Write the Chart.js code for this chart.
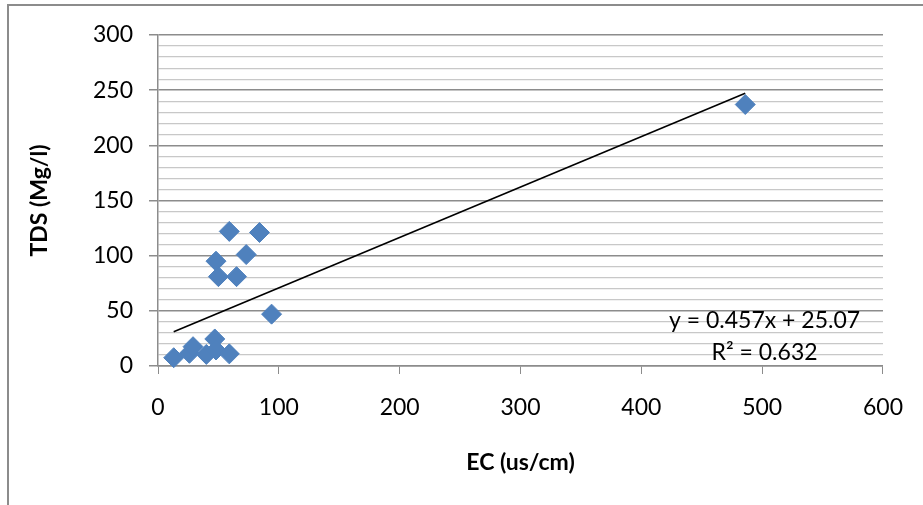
<!DOCTYPE html>
<html>
<head>
<meta charset="utf-8">
<script src="https://cdn.jsdelivr.net/npm/chart.js@4.4.1/dist/chart.umd.min.js"></script>
<style>
  html, body { margin: 0; padding: 0; background: #fff; }
  #wrap { position: relative; width: 923px; height: 505px; overflow: hidden; }
  #frame { position: absolute; left: 7px; top: 4px; width: 1000px; height: 600px;
           border-left: 2px solid #8c8c8c; border-top: 2px solid #8c8c8c; }
  canvas { position: absolute; left: 0; top: 0; }
</style>
</head>
<body>
<div id="wrap">
  <div id="frame"></div>
  <canvas id="chart" width="923" height="505"></canvas>
</div>
<script>
// data
const ec  = [13, 26, 29, 40, 47, 48, 59, 94, 59, 84, 73, 48, 50, 65, 486];
const tds = [7.5, 11.5, 17.5, 10.5, 24.5, 14.5, 11, 47, 122, 121, 101, 95, 81, 81, 237];

// trendline shown on the chart
const slope = 0.457;
const intercept = 25.07;
const eqLines = ["y = 0.457x + 25.07", "R² = 0.632"];

const xTicks = [0, 100, 200, 300, 400, 500, 600];
const yTickLabels = [0, 50, 100, 150, 200, 250, 300];

Chart.defaults.font.family = "Lato";
Chart.defaults.color = "#000";

const points = ec.map((x, i) => ({ x: x, y: tds[i] }));
const xMin = Math.min(...ec), xMax = Math.max(...ec);
const trend = [
  { x: xMin, y: slope * xMin + intercept },
  { x: xMax, y: slope * xMax + intercept }
];

// equation label next to the trendline
const eqLabel = {
  id: "eqLabel",
  afterDatasetsDraw(chart) {
    const { ctx, scales } = chart;
    const cx = scales.x.getPixelForValue(502);
    const cy = scales.y.getPixelForValue(41);
    ctx.save();
    ctx.font = "23px Lato";
    ctx.fillStyle = "#000";
    ctx.textAlign = "center";
    ctx.textBaseline = "middle";
    eqLines.forEach((t, i) => ctx.fillText(t, cx, cy + i * 32));
    ctx.restore();
  }
};

const major = v => yTickLabels.includes(v);

new Chart(document.getElementById("chart"), {
  type: "scatter",
  data: {
    datasets: [
      {
        data: points,
        pointStyle: "rectRot",
        pointRadius: 10,
        backgroundColor: "#4F81BD",
        borderColor: "#4F81BD",
        borderWidth: 1,
        clip: false
      },
      {
        type: "line",
        data: trend,
        borderColor: "#000",
        borderWidth: 1.6,
        pointRadius: 0,
        fill: false
      }
    ]
  },
  options: {
    responsive: false,
    animation: false,
    layout: { padding: { left: 0, top: 35, right: 35, bottom: 0 } },
    plugins: { legend: { display: false }, tooltip: { enabled: false } },
    scales: {
      x: {
        type: "linear",
        min: 0, max: 600,
        afterBuildTicks: s => { s.ticks = xTicks.map(v => ({ value: v })); },
        afterFit: s => { s.height = 139; },
        ticks: { font: { size: 23 }, padding: 20, maxRotation: 0 },
        grid: { drawOnChartArea: false, tickLength: 8, color: "#8c8c8c" },
        border: { color: "#8c8c8c", width: 1.5 },
        title: {
          display: true, text: "EC (us/cm)",
          font: { size: 23, weight: "bold" },
          padding: { top: 0, bottom: 29 }
        }
      },
      y: {
        min: 0, max: 300,
        afterFit: s => { s.width = 158; },
        ticks: {
          stepSize: 10, maxTicksLimit: 40, autoSkip: false,
          font: { size: 23 }, padding: 16,
          callback: v => major(v) ? v : ""
        },
        grid: {
          tickLength: 9,
          color: c => major(c.tick.value) ? "#8c8c8c" : "#c8c8c8",
          tickColor: c => major(c.tick.value) ? "#8c8c8c" : "rgba(0,0,0,0)",
          lineWidth: c => major(c.tick.value) ? 1.5 : 1.2
        },
        border: { color: "#8c8c8c", width: 1.5 },
        title: {
          display: true, text: "TDS (Mg/l)",
          font: { size: 23, weight: "bold" },
          padding: { top: 26, bottom: 0 }
        }
      }
    }
  },
  plugins: [eqLabel]
});
</script>
</body>
</html>
